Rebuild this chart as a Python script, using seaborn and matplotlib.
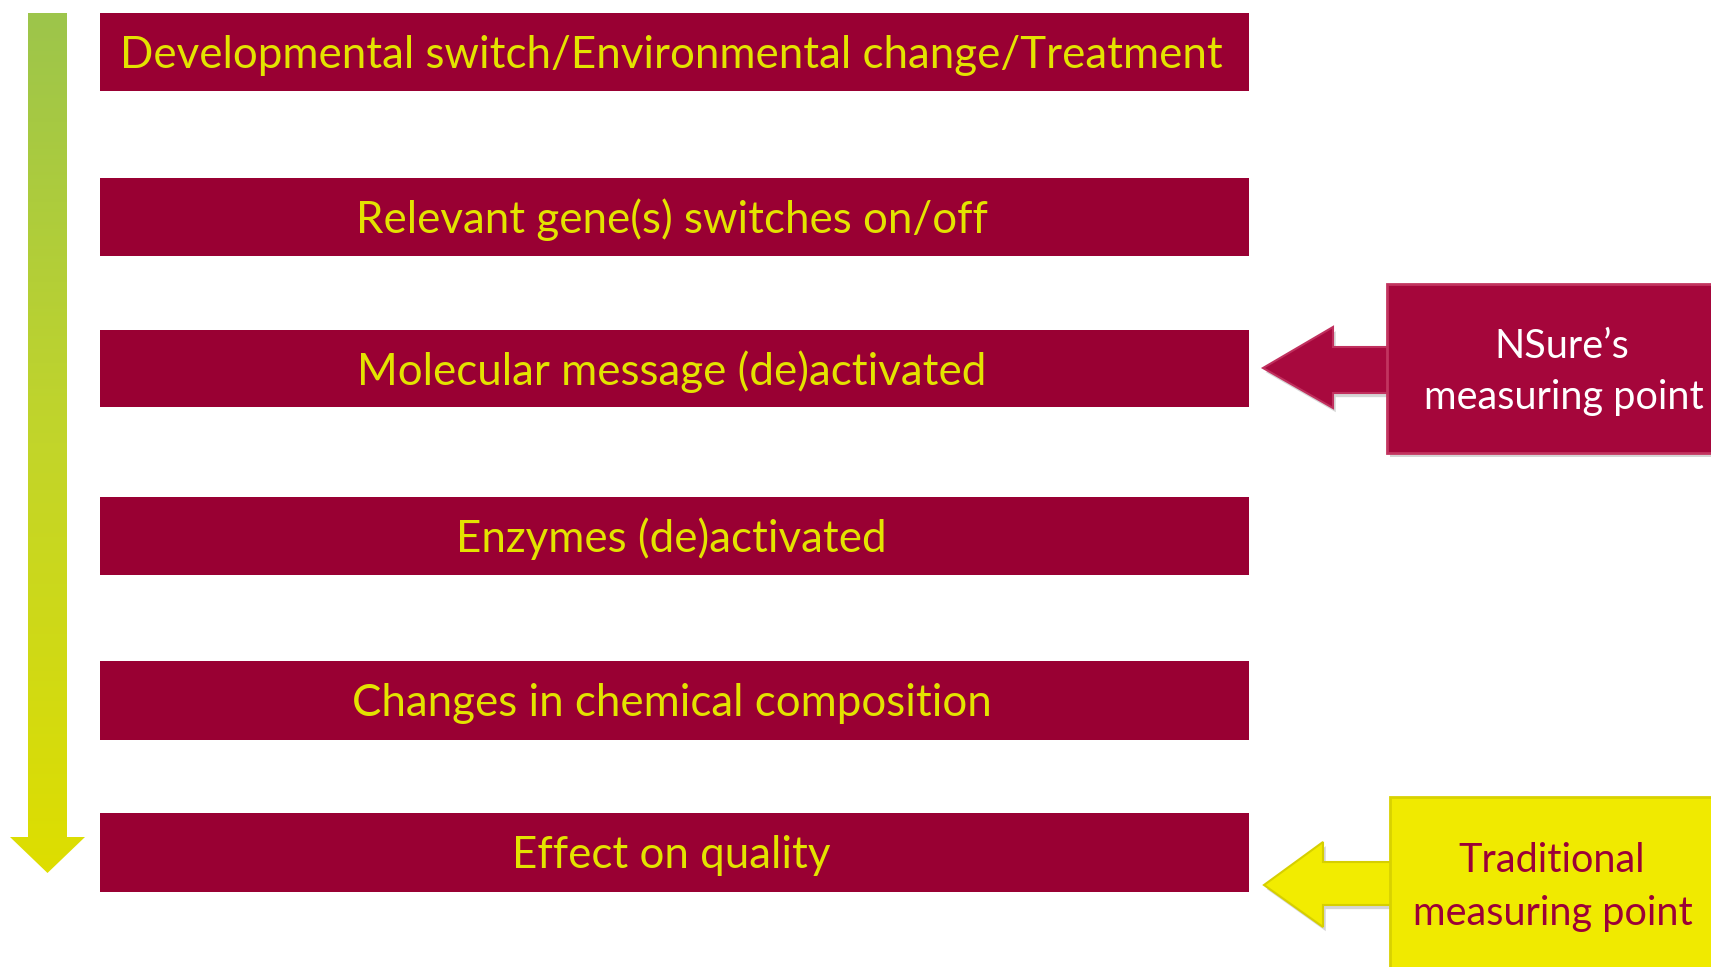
import numpy as np
import matplotlib
matplotlib.use("Agg")
import matplotlib.pyplot as plt
import seaborn as sns
from matplotlib.patches import Polygon, Rectangle
from matplotlib.colors import LinearSegmentedColormap
import matplotlib.patheffects as pe

# ---- content ----
steps = [
    "Developmental switch/Environmental change/Treatment",
    "Relevant gene(s) switches on/off",
    "Molecular message (de)activated",
    "Enzymes (de)activated",
    "Changes in chemical composition",
    "Effect on quality",
]
callout_lines = [["NSure\u2019s", "measuring point"], ["Traditional", "measuring point"]]
callout_step = [2, 5]

# ---- layout (pixels, y downward) ----
step_top = [13, 178, 330, 497, 661, 813]
step_bot = [91, 256, 407, 575, 740, 892]
box_left, box_right = 100, 1249

sns.set_theme(style="white")
plt.rcParams['font.family'] = ['Lato', 'DejaVu Sans']

W, H = 1711, 967
fig = plt.figure(figsize=(W / 100, H / 100), dpi=100)
ax = fig.add_axes([0, 0, 1, 1])

# step boxes
centers = [(t + b) / 2 for t, b in zip(step_top, step_bot)]
heights = [b - t for t, b in zip(step_top, step_bot)]
ax.barh(centers, box_right - box_left, left=box_left, height=heights,
        color="#990033", edgecolor="none", zorder=2)
for c, s in zip(centers, steps):
    ax.text((box_left + box_right) / 2 - 3, c + 3, s, ha="center", va="center",
            color="#E3E300", fontsize=31.6, zorder=3)

# left gradient arrow
arrow_pts = [(28, 13), (67, 13), (67, 837), (85, 837), (47.5, 873), (10, 837), (28, 837)]
poly = Polygon(arrow_pts, closed=True, facecolor="none", edgecolor="none", zorder=2)
ax.add_patch(poly)
cmap = LinearSegmentedColormap.from_list("g", ["#9DC54B", "#C2D52A", "#DEDE00"])
grad = np.linspace(0, 1, 256).reshape(-1, 1)
im = ax.imshow(grad, cmap=cmap, extent=(10, 85, 873, 13), origin="upper",
               aspect="auto", zorder=2, interpolation="bicubic")
im.set_clip_path(poly)

shadow = [pe.SimplePatchShadow(offset=(2, -3), shadow_rgbFace="#777777", alpha=0.3), pe.Normal()]

# NSure callout
ns_arrow = [(1263, 368), (1333, 327), (1333, 347), (1392, 347), (1392, 393), (1333, 393), (1333, 408)]
ax.add_patch(Polygon(ns_arrow, closed=True, facecolor="#A8093E", edgecolor="#C0305E",
                     lw=1.5, zorder=4, path_effects=shadow))
ax.add_patch(Rectangle((1387, 284), 340, 169, facecolor="#A5063B", edgecolor="#C2345F",
                       lw=2, zorder=5, path_effects=shadow))
ax.text(1562, 346, callout_lines[0][0], ha="center", va="center", color="white",
        fontsize=28.5, zorder=6)
ax.text(1564, 397, callout_lines[0][1], ha="center", va="center", color="white",
        fontsize=28.5, zorder=6)

# Traditional callout
tr_arrow = [(1264, 885), (1323, 842), (1323, 862), (1394, 862), (1394, 905), (1323, 905), (1323, 927)]
ax.add_patch(Polygon(tr_arrow, closed=True, facecolor="#F2EC00", edgecolor="#D6CF00",
                     lw=1.5, zorder=4, path_effects=shadow))
ax.add_patch(Rectangle((1390, 797), 340, 200, facecolor="#F0EA00", edgecolor="#D8D200",
                       lw=2, zorder=5, path_effects=shadow))
ax.text(1552, 861, callout_lines[1][0], ha="center", va="center", color="#9B0038",
        fontsize=28.5, zorder=6)
ax.text(1553, 913, callout_lines[1][1], ha="center", va="center", color="#9B0038",
        fontsize=28.5, zorder=6)

ax.set_xlim(0, W)
ax.set_ylim(H, 0)
ax.axis("off")
fig.savefig("out.png", dpi=100, facecolor="white")
